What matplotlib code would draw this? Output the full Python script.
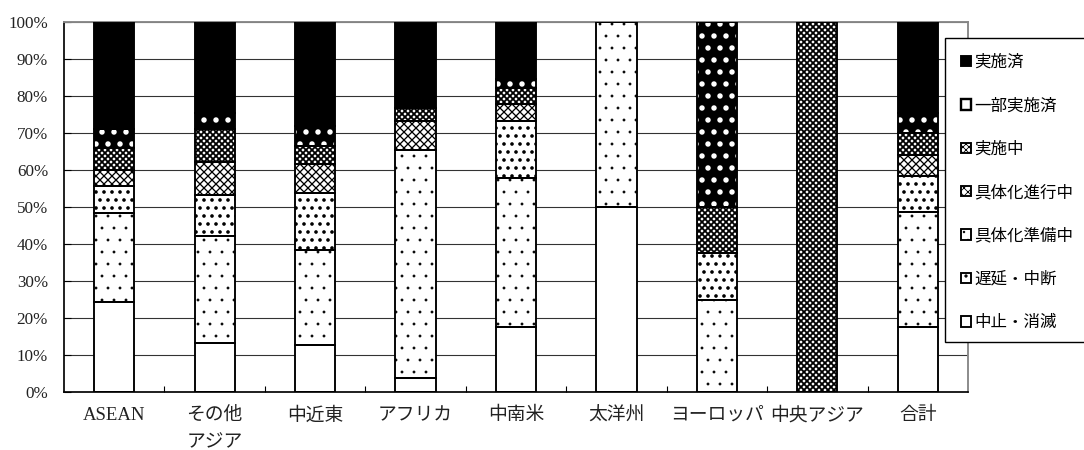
import numpy as np
import matplotlib
matplotlib.use('Agg')
import matplotlib.pyplot as plt
from matplotlib.patches import Patch, Rectangle
from matplotlib.ticker import FixedLocator, PercentFormatter

# カテゴリ（地域）
categories = ['ASEAN', 'その他\nアジア', '中近東', 'アフリカ', '中南米',
              '太洋州', 'ヨーロッパ', '中央アジア', '合計']

# 各ステータスの割合 (%)  下から積み上げ
chushi_shometsu = [24.4, 13.2, 12.7, 3.7, 17.7, 50.0, 0.0, 0.0, 17.7]
chien_chudan = [23.9, 29.0, 25.7, 61.7, 40.2, 50.0, 25.0, 0.0, 30.9]
gutaika_junbi = [7.5, 11.0, 15.3, 0.0, 15.4, 0.0, 12.5, 0.0, 9.9]
gutaika_shinko = [4.2, 9.0, 7.8, 7.9, 4.5, 0.0, 0.0, 0.0, 5.6]
jisshichu = [6.0, 8.9, 5.1, 3.5, 4.3, 0.0, 12.5, 100.0, 6.0]
ichibu_jisshizumi = [5.0, 4.4, 5.4, 0.0, 2.4, 0.0, 50.0, 0.0, 5.4]
jisshizumi = [29.0, 24.5, 28.0, 23.2, 15.5, 0.0, 0.0, 0.0, 24.5]

series = [
    ('中止・消滅', chushi_shometsu),
    ('遅延・中断', chien_chudan),
    ('具体化準備中', gutaika_junbi),
    ('具体化進行中', gutaika_shinko),
    ('実施中', jisshichu),
    ('一部実施済', ichibu_jisshizumi),
    ('実施済', jisshizumi),
]

# 塗り: (facecolor, hatch, hatch color, hatch linewidth)
styles = {
    '中止・消滅': ('white', None, 'black', 0.4),
    '遅延・中断': ('white', '..', 'black', 0.15),
    '具体化準備中': ('white', '...', 'black', 1.0),
    '具体化進行中': ('white', 'x' * 6, 'black', 0.65),
    '実施中': ('white', 'x' * 8, 'black', 0.9),
    '一部実施済': ('black', '..', 'white', 1.5),
    '実施済': ('black', None, 'black', 0.4),
}

DPI = 144
plt.rcParams['hatch.linewidth'] = 0.4
fig = plt.figure(figsize=(1084 / DPI, 450 / DPI), dpi=DPI)
ax = fig.add_axes([64 / 1084, 58 / 450, 904 / 1084, 370 / 450])

x = np.arange(len(categories))
width = 0.4
bottom = np.zeros(len(categories))
for name, vals in series:
    vals = np.array(vals)
    fc, h, hc, hlw = styles[name]
    bars = ax.bar(x, vals, width, bottom=bottom, facecolor=fc, edgecolor=hc,
                  hatch=h, linewidth=0, zorder=2)
    for b in bars:
        if hasattr(b, 'set_hatch_linewidth'):
            b.set_hatch_linewidth(hlw)
    ax.bar(x, vals, width, bottom=bottom, fill=False, edgecolor='black',
           linewidth=0.95, zorder=3)
    bottom += vals

ax.set_xlim(-0.5, len(categories) - 0.5)
ax.set_ylim(0, 100)
ax.set_axisbelow(True)
ax.yaxis.set_major_locator(FixedLocator(np.arange(0, 101, 10)))
ax.yaxis.set_major_formatter(PercentFormatter(decimals=0))
ax.grid(axis='y', color='#333333', linewidth=0.55)

ax.set_xticks(x)
ax.set_xticklabels(categories, family=['Liberation Serif', 'Noto Sans CJK JP'],
                   fontsize=9.4, color='#222222', linespacing=1.8)
ax.set_xticks(x[:-1] + 0.5, minor=True)
ax.tick_params(axis='x', which='major', length=0, pad=7.5)
ax.tick_params(axis='x', which='minor', direction='in', length=3, width=0.55)
ax.tick_params(axis='y', direction='in', length=3.3, width=0.55, pad=8,
               labelsize=8.5, labelcolor='#222222')
for lab in ax.get_yticklabels():
    lab.set_family('Liberation Serif')

for s in ['left', 'bottom']:
    ax.spines[s].set_color('black')
    ax.spines[s].set_linewidth(0.85)
for s in ['top', 'right']:
    ax.spines[s].set_color('#888888')
    ax.spines[s].set_linewidth(0.95)

# 凡例の枠（白地）
fig.patches.append(Rectangle((945 / 1084, 108 / 450), 145 / 1084, 304 / 450,
                             transform=fig.transFigure, facecolor='white',
                             edgecolor='black', linewidth=0.7, zorder=4))

# 凡例（上から実施済）
handles = []
for name, _ in reversed(series):
    fc, h, hc, hlw = styles[name]
    if name == '一部実施済':
        handles.append(Patch(facecolor='white', edgecolor='black', linewidth=1.2, label=name))
    else:
        handles.append(Patch(facecolor=fc, edgecolor='black', hatch=h,
                             linewidth=0.95, label=name))
leg = fig.legend(handles=handles, loc='upper left',
                 bbox_to_anchor=(955 / 1084, 402 / 450), borderaxespad=0,
                 prop={'family': 'Noto Sans CJK JP', 'size': 8.25},
                 handlelength=0.6, handleheight=0.6, handletextpad=0.2,
                 labelspacing=1.6, borderpad=0.35, frameon=False)
leg.set_zorder(6)

fig.savefig('out.png', dpi=DPI, facecolor='white')
